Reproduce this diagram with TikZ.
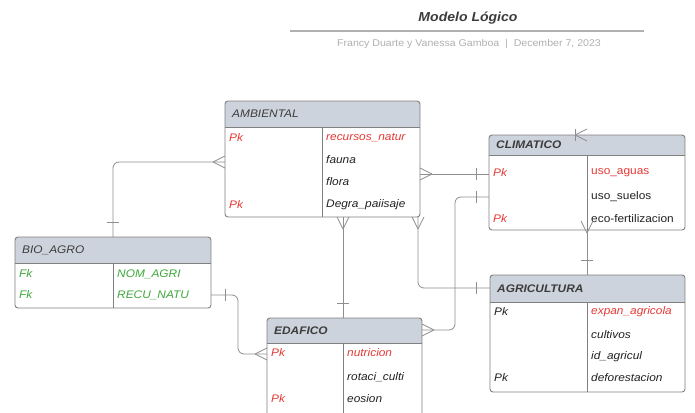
\documentclass[tikz,border=0pt]{standalone}
\usepackage{fontspec}
\setmainfont{Liberation Sans}[FakeStretch=1.08]
\definecolor{hdr}{HTML}{CDD3DC}
\definecolor{bord}{HTML}{808080}
\definecolor{lnk}{HTML}{8E8E8E}
\definecolor{pkred}{HTML}{E53935}
\definecolor{fkgreen}{HTML}{3DA83A}
\definecolor{txt}{HTML}{222222}
\definecolor{htxt}{HTML}{3C3C3C}
\definecolor{subt}{HTML}{B0B0B0}
\tikzset{
  x=1pt,y=-1pt,
  tbl/.style={draw=bord, line width=0.9pt, rounded corners=3pt, inner sep=0pt, outer sep=0pt},
  sep/.style={draw=bord, line width=0.9pt},
  conn/.style={draw=lnk, line width=0.8pt},
  cell/.style={anchor=west, inner sep=0pt, font=\fontsize{11}{13}\selectfont\itshape, text=txt},
  cellup/.style={anchor=west, inner sep=0pt, font=\fontsize{11}{13}\selectfont, text=txt},
  hdrtxt/.style={anchor=west, inner sep=0pt, font=\fontsize{11}{13}\selectfont\itshape, text=htxt},
  hdrbold/.style={anchor=west, inner sep=0pt, font=\fontsize{11}{13}\selectfont\itshape\bfseries, text=htxt},
  crow/.pic={\draw[conn] (-12,0) -- (0,-6) (-12,0) -- (0,6);},
  onebar/.pic={\draw[conn] (0,-6) -- (0,6);}
}
\newcommand\ertable[9]{%
  \begin{scope}
    \clip[rounded corners=3pt] (#2,#3) rectangle (#4,#5);
    \fill[hdr] (#2,#3) rectangle (#4,#6);
  \end{scope}
  \draw[sep] (#2,#6) -- (#4,#6);
  \draw[sep] (#7,#6) -- (#7,#5);
  \node[tbl, minimum width={#4pt-#2pt}, minimum height={#5pt-#3pt}] (#1) at ({(#2+#4)/2},{(#3+#5)/2}) {};
  \node[#9] (#1-title) at ({#2+7},{(#3+#6)/2}) {#8};
}
\begin{document}
\begin{tikzpicture}
\useasboundingbox (0,0) rectangle (695,412);
\clip (0,0) rectangle (695,412);
\fill[white] (0,0) rectangle (695,412);

% title block
\node[font=\fontsize{13}{15}\selectfont\bfseries\itshape, text=htxt] (title) at (468,18) {Modelo Lógico};
\coordinate (rl) at (290,31);
\coordinate (rr) at (644,31);
\draw[draw=subt, line width=1.2pt] (rl) -- (rr);
\node[font=\fontsize{9.8}{11}\selectfont, text=subt] (subtitle) at (469,44) {Francy Duarte y Vanessa Gamboa \ | \ December 7, 2023};

% tables
\ertable{amb}{225}{101}{420}{217}{127}{322}{AMBIENTAL}{hdrtxt}
\ertable{clim}{489}{135}{685}{230}{155}{587}{CLIMATICO}{hdrbold}
\ertable{bio}{15}{237}{211}{308}{263}{113}{BIO\_AGRO}{hdrtxt}
\ertable{eda}{267}{318}{422}{418}{343}{343}{EDAFICO}{hdrbold}
\ertable{agri}{490}{275}{685}{392}{302}{587}{AGRICULTURA}{hdrbold}

% AMBIENTAL rows
\node[cell, text=pkred] (amb-k1) at (229,138) {Pk};
\node[cell, text=pkred] (amb-a1) at (326,138) {recursos\_natur};
\node[cell] (amb-a2) at (326,160) {fauna};
\node[cell] (amb-a3) at (326,182) {flora};
\node[cell, text=pkred] (amb-k4) at (229,205) {Pk};
\node[cell] (amb-a4) at (326,205) {Degra\_paiisaje};

% CLIMATICO rows
\node[cell, text=pkred] (clim-k1) at (493,173) {Pk};
\node[cellup, text=pkred] (clim-a1) at (591,173) {uso\_aguas};
\node[cellup] (clim-a2) at (591,197) {uso\_suelos};
\node[cell, text=pkred] (clim-k3) at (493,219) {Pk};
\node[cellup] (clim-a3) at (591,219) {eco-fertilizacion};

% BIO_AGRO rows
\node[cell, text=fkgreen] (bio-k1) at (19,274) {Fk};
\node[cell, text=fkgreen] (bio-a1) at (117,274) {NOM\_AGRI};
\node[cell, text=fkgreen] (bio-k2) at (19,295) {Fk};
\node[cell, text=fkgreen] (bio-a2) at (117,295) {RECU\_NATU};

% EDAFICO rows
\node[cell, text=pkred] (eda-k1) at (271,353) {Pk};
\node[cell, text=pkred] (eda-a1) at (347,353) {nutricion};
\node[cell] (eda-a2) at (347,377) {rotaci\_culti};
\node[cell, text=pkred] (eda-k3) at (271,399) {Pk};
\node[cell] (eda-a3) at (347,399) {eosion};

% AGRICULTURA rows
\node[cell] (agri-k1) at (494,312) {Pk};
\node[cell, text=pkred] (agri-a1) at (591,312) {expan\_agricola};
\node[cell] (agri-a2) at (591,335) {cultivos};
\node[cell] (agri-a3) at (591,357) {id\_agricul};
\node[cell] (agri-k4) at (494,378) {Pk};
\node[cell] (agri-a4) at (591,378) {deforestacion};

% connectors
% AMBIENTAL -> BIO_AGRO
\draw[conn, rounded corners=6pt] (amb.west |- 0,162) -| (bio.north);
\path (amb.west |- 0,162) pic{crow};
\path (113,222) pic[rotate=90]{onebar};

% AMBIENTAL -> CLIMATICO
\draw[conn] (amb.east |- 0,174) -- (clim.west |- 0,174);
\path (amb.east |- 0,174) pic[rotate=180]{crow};
\path (476,174) pic{onebar};

% CLIMATICO -> EDAFICO
\draw[conn, rounded corners=6pt] (clim.west |- 0,197) -| (455,330) -- (eda.east |- 0,330);
\path (eda.east |- 0,330) pic[rotate=180]{crow};
\path (476,197) pic{onebar};

% AMBIENTAL -> AGRICULTURA
\draw[conn, rounded corners=6pt] (amb.south -| 418,0) |- (agri.west |- 0,288);
\path (amb.south -| 418,0) pic[rotate=90]{crow};
\path (476,288) pic{onebar};

% AMBIENTAL -> EDAFICO
\draw[conn] (amb.south -| 343,0) -- (eda.north -| 343,0);
\path (amb.south -| 343,0) pic[rotate=90]{crow};
\path (343,303) pic[rotate=90]{onebar};

% BIO_AGRO -> EDAFICO
\draw[conn, rounded corners=6pt] (bio.east |- 0,295) -| (238,354) -- (eda.west |- 0,354);
\path (eda.west |- 0,354) pic{crow};
\path (225,295) pic{onebar};

% CLIMATICO -> AGRICULTURA
\draw[conn] (clim.south) -- (agri.north -| clim.south);
\path (587,221) pic[rotate=90]{crow};
\path (587,260) pic[rotate=90]{onebar};

% mark on CLIMATICO top edge
\path (clim.north -| 587,0) pic{crow};
\path (clim.north -| 575,0) pic{onebar};
\end{tikzpicture}
\end{document}
